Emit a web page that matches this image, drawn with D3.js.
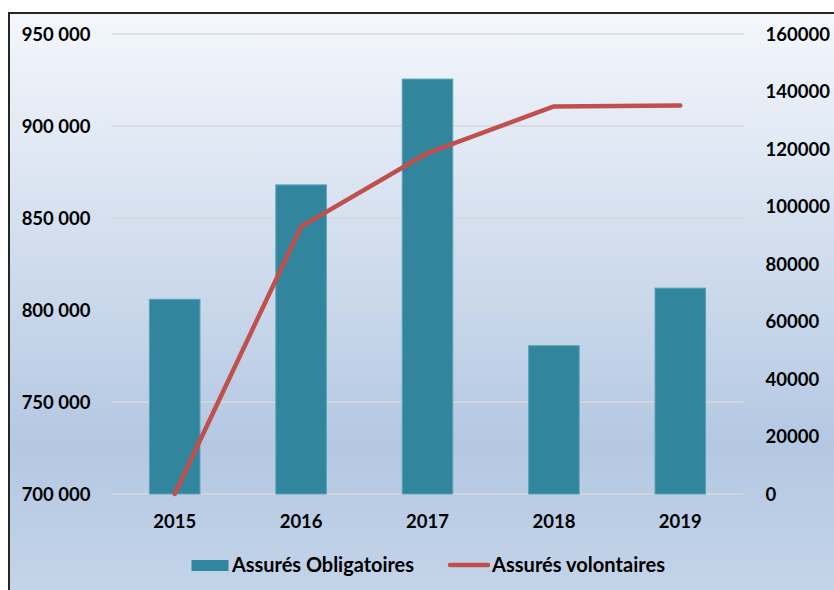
<!DOCTYPE html>
<html lang="fr">
<head>
<meta charset="UTF-8">
<title>Assurés</title>
<style>
  body { margin: 0; background: #fff; }
  svg text { font-family: Lato, "Open Sans", sans-serif; font-weight: 700; fill: #000; }
</style>
</head>
<body>
<svg id="chart"></svg>
<script src="https://cdn.jsdelivr.net/npm/d3@7"></script>
<script>
// données
const years = ["2015", "2016", "2017", "2018", "2019"];
const obligatoires = [805800, 868000, 925500, 780600, 811900];
const volontaires = [0, 93000, 118600, 134800, 135100];
const leftTicks = [700000, 750000, 800000, 850000, 900000, 950000];
const rightTicks = [0, 20000, 40000, 60000, 80000, 100000, 120000, 140000, 160000];
const seriesNames = ["Assurés Obligatoires", "Assurés volontaires"];

const width = 834, height = 590;
const margin = { top: 34, left: 111.5, right: 90.5, bottom: 96 };

const svg = d3.select("#chart").attr("width", width).attr("height", height);

// fond dégradé + cadre
const defs = svg.append("defs");
const grad = defs.append("linearGradient").attr("id", "bg")
  .attr("x1", 0).attr("y1", 0).attr("x2", 0).attr("y2", 1);
grad.append("stop").attr("offset", "0%").attr("stop-color", "#f4f7fc");
grad.append("stop").attr("offset", "72%").attr("stop-color", "#b4c8e2");
grad.append("stop").attr("offset", "100%").attr("stop-color", "#c6d6ea");

svg.append("rect")
  .attr("x", 9).attr("y", 13)
  .attr("width", 840).attr("height", 600)
  .attr("fill", "url(#bg)")
  .attr("stroke", "#262626").attr("stroke-width", 2);

const x = d3.scaleBand().domain(years)
  .range([margin.left, width - margin.right])
  .paddingInner(0.6).paddingOuter(0.3);
const yLeft = d3.scaleLinear().domain([700000, 950000])
  .range([height - margin.bottom, margin.top]);
const yRight = d3.scaleLinear().domain([0, 160000])
  .range([height - margin.bottom, margin.top]);

const fmt = d => d3.format(",")(d).replace(/,/g, " ");

// grille
svg.append("g").selectAll("line")
  .data(leftTicks)
  .enter().append("line")
  .attr("x1", margin.left).attr("x2", width - margin.right)
  .attr("y1", d => yLeft(d)).attr("y2", d => yLeft(d))
  .attr("stroke", "#d6d9dd").attr("stroke-width", 1.5);

// axe gauche
const axL = svg.append("g")
  .attr("transform", "translate(" + (margin.left - 21) + ",0)")
  .call(d3.axisLeft(yLeft).tickValues(leftTicks).tickFormat(fmt).tickSize(0));
axL.select(".domain").remove();
axL.selectAll("text").attr("x", 0).attr("dy", "0.35em").style("font-size", "18.5px");

// axe droit
const axR = svg.append("g")
  .attr("transform", "translate(" + (width - margin.right + 22) + ",0)")
  .call(d3.axisRight(yRight).tickValues(rightTicks).tickFormat(d3.format("d")).tickSize(0));
axR.select(".domain").remove();
axR.selectAll("text").attr("x", 0).attr("dy", "0.35em").style("font-size", "18.5px");

// axe x
const axX = svg.append("g")
  .attr("transform", "translate(0," + (height - margin.bottom) + ")")
  .call(d3.axisBottom(x).tickSize(0));
axX.select(".domain").remove();
axX.selectAll("text").attr("y", 21).attr("dy", "0.71em").style("font-size", "18.5px");

// barres
svg.append("g").selectAll("rect")
  .data(obligatoires)
  .enter().append("rect")
  .attr("x", (d, i) => x(years[i]))
  .attr("y", d => yLeft(d))
  .attr("width", x.bandwidth())
  .attr("height", d => yLeft(700000) - yLeft(d))
  .attr("fill", "#31859c")
  .attr("stroke", "#5aa2b8").attr("stroke-width", 1);

// courbe
const line = d3.line()
  .x((d, i) => x(years[i]) + x.bandwidth() / 2)
  .y(d => yRight(d));
svg.append("path")
  .datum(volontaires)
  .attr("d", line)
  .attr("fill", "none")
  .attr("stroke", "#c0504d")
  .attr("stroke-width", 4.5)
  .attr("stroke-linecap", "round")
  .attr("stroke-linejoin", "round");

// légende
const leg = svg.append("g");
leg.append("rect").attr("x", 191.5).attr("y", 560)
  .attr("width", 37).attr("height", 11).attr("fill", "#31859c");
leg.append("text").attr("x", 232).attr("y", 572)
  .style("font-size", "20px").attr("textLength", 182).attr("lengthAdjust", "spacingAndGlyphs")
  .text(seriesNames[0]);
leg.append("line").attr("x1", 450).attr("x2", 488)
  .attr("y1", 565).attr("y2", 565)
  .attr("stroke", "#c0504d").attr("stroke-width", 4.5).attr("stroke-linecap", "round");
leg.append("text").attr("x", 492).attr("y", 572)
  .style("font-size", "20px").attr("textLength", 173).attr("lengthAdjust", "spacingAndGlyphs")
  .text(seriesNames[1]);
</script>
</body>
</html>
